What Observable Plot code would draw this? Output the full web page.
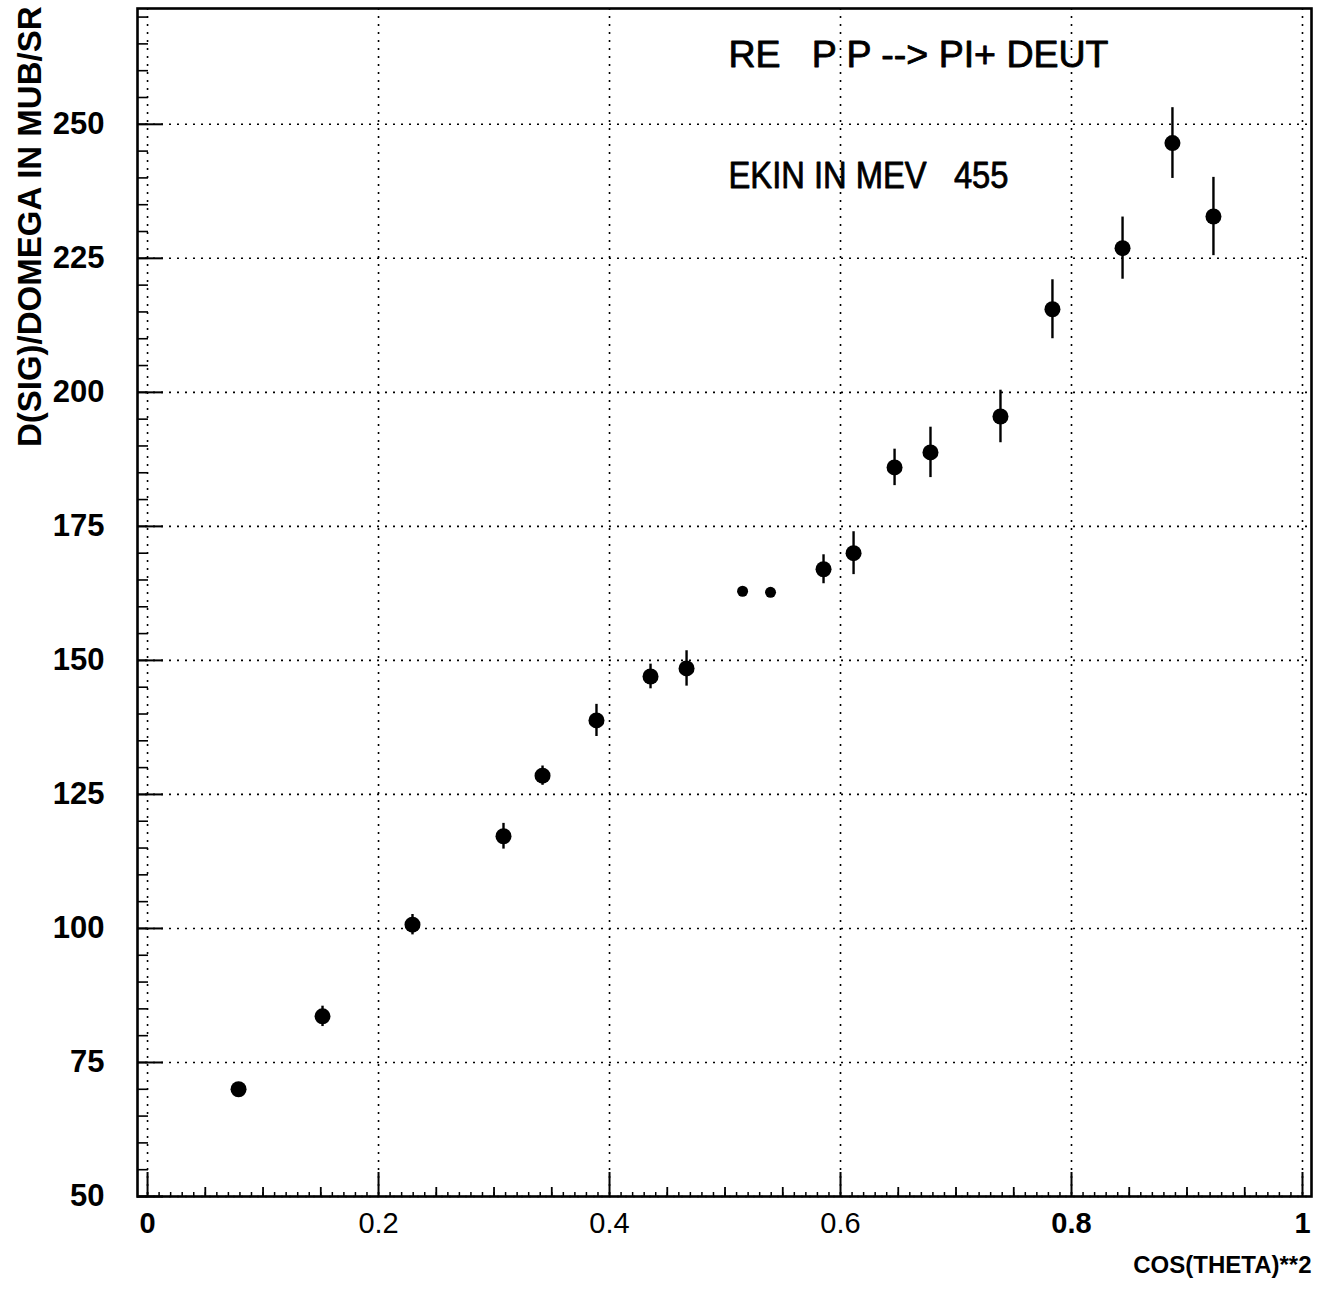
<!DOCTYPE html>
<html>
<head>
<meta charset="utf-8">
<script src="https://cdn.jsdelivr.net/npm/d3@7"></script>
<script src="https://cdn.jsdelivr.net/npm/@observablehq/plot@0.6"></script>
<style>
  body { margin: 0; background: #fff; }
  svg text { white-space: pre; }
</style>
</head>
<body>
<div id="chart"></div>
<script>
// ---- data ----
const cos2 = [0.0788, 0.1515, 0.2294, 0.3082, 0.3420, 0.3887, 0.4355, 0.4667, 0.5152, 0.5394,
              0.5853, 0.6113, 0.6468, 0.6779, 0.7385, 0.7835, 0.8442, 0.8874, 0.9229];
const dsig = [70.0, 83.6, 100.7, 117.2, 128.5, 138.8, 147.0, 148.5, 162.9, 162.7,
              167.0, 170.0, 186.0, 188.8, 195.5, 215.5, 226.9, 246.5, 232.8];
const dsigErr = [1.0, 1.9, 1.9, 2.4, 1.8, 3.0, 2.3, 3.3, 0.5, 0.5,
                 2.7, 4.0, 3.4, 4.7, 4.9, 5.5, 5.8, 6.6, 7.3];
const markerKind = ["full","full","full","full","full","full","full","full","small","small",
                    "full","full","full","full","full","full","full","full","full"];

const xTickLabels = [0, 0.2, 0.4, 0.6, 0.8, 1];
const yTickLabels = [50, 75, 100, 125, 150, 175, 200, 225, 250];
const xMediumTicks = [0.05, 0.1, 0.15, 0.25, 0.3, 0.35, 0.45, 0.5, 0.55, 0.65, 0.7, 0.75, 0.85, 0.9, 0.95];
const xSmallTicks = d3.range(0, 101).map(i => i / 100);
const yMinorTicks = d3.range(50, 275, 5);

const titleLine1 = "RE   P P --> PI+ DEUT";
const titleLine2 = "EKIN IN MEV   455";
const xTitle = "COS(THETA)**2";
const yTitle = "D(SIG)/DOMEGA IN MUB/SR";

const table = cos2.map((x, i) => ({x, y: dsig[i], e: dsigErr[i], kind: markerKind[i]}));

// ---- layout ----
const W = 1327, H = 1292;
const mL = 137, mR = 16, mT = 8, mB = 96;
const frameW = W - mL - mR, frameH = H - mT - mB;
const grid = {stroke: "black", strokeWidth: 1.6, strokeDasharray: "2,6"};
const font = "'Liberation Sans', Arial, sans-serif";

const chart = Plot.plot({
  width: W, height: H,
  marginLeft: mL, marginRight: mR, marginTop: mT, marginBottom: mB,
  style: {background: "white", fontFamily: font},
  x: {domain: [-0.0087, 1.0078], axis: null},
  y: {domain: [50, 271.6], axis: null},
  marks: [
    // dotted grid
    Plot.ruleX(xTickLabels, {x: d => d, ...grid}),
    Plot.ruleY(yTickLabels, {y: d => d, ...grid}),
    // bottom ticks (pointing up)
    Plot.ruleX(xSmallTicks, {x: d => d, insetTop: frameH - 4, stroke: "black", strokeWidth: 1.5}),
    Plot.ruleX(xMediumTicks, {x: d => d, insetTop: frameH - 9, stroke: "black", strokeWidth: 1.8}),
    Plot.ruleX(xTickLabels, {x: d => d, insetTop: frameH - 24, stroke: "black", strokeWidth: 2}),
    // left ticks (pointing right)
    Plot.ruleY(yMinorTicks, {y: d => d, insetRight: frameW - 11, stroke: "black", strokeWidth: 1.6}),
    Plot.ruleY(yTickLabels, {y: d => d, insetRight: frameW - 26, stroke: "black", strokeWidth: 2}),
    // frame
    Plot.frame({stroke: "black", strokeWidth: 2.6}),
    // error bars + points
    Plot.ruleX(table, {x: "x", y1: d => d.y - d.e, y2: d => d.y + d.e, stroke: "black", strokeWidth: 2.4}),
    Plot.dot(table.filter(d => d.kind === "full"), {x: "x", y: "y", r: 8, fill: "black", stroke: null}),
    Plot.dot(table.filter(d => d.kind === "small"), {x: "x", y: "y", r: 5.5, fill: "black", stroke: null}),
    // tick labels
    Plot.text(yTickLabels, {y: d => d, text: d => String(d), frameAnchor: "left", dx: -33,
      textAnchor: "end", lineAnchor: "middle", fontSize: 31, fontWeight: "bold", fill: "black"}),
    Plot.text(xTickLabels, {x: d => d, text: d => String(d), frameAnchor: "bottom", dy: 27,
      lineAnchor: "middle", fontSize: 29, fontWeight: "bold", fill: "black"}),
    // axis titles
    Plot.text([yTitle], {text: d => d, frameAnchor: "top-left", rotate: -90, textAnchor: "end",
      lineAnchor: "middle", dx: -107, dy: -2, fontSize: 33, fontWeight: "bold", fill: "black"}),
    Plot.text([xTitle], {text: d => d, frameAnchor: "bottom-right", textAnchor: "end",
      lineAnchor: "middle", dx: 0, dy: 69, fontSize: 24, fontWeight: "bold", fill: "black"}),
    // in-plot annotations
    Plot.text([titleLine1], {text: d => d, frameAnchor: "top-left", textAnchor: "start",
      lineAnchor: "middle", dx: 591, dy: 47, fontSize: 36, fill: "black", stroke: "black", strokeWidth: 0.8}),
    Plot.text([titleLine2], {text: d => d, frameAnchor: "top-left", textAnchor: "start",
      lineAnchor: "middle", dx: 591, dy: 168, fontSize: 36, fill: "black", stroke: "black", strokeWidth: 0.8})
  ]
});

// width of the original plotter lettering for the in-plot annotations
const targetWidth = {[titleLine1]: 380, [titleLine2]: 280};
chart.querySelectorAll("text").forEach(t => {
  const w = targetWidth[t.textContent];
  if (w) { t.setAttribute("textLength", w); t.setAttribute("lengthAdjust", "spacingAndGlyphs"); }
  if (["0.2", "0.4", "0.6"].includes(t.textContent)) t.setAttribute("font-weight", "normal");
});

document.getElementById("chart").appendChild(chart);
</script>
</body>
</html>
